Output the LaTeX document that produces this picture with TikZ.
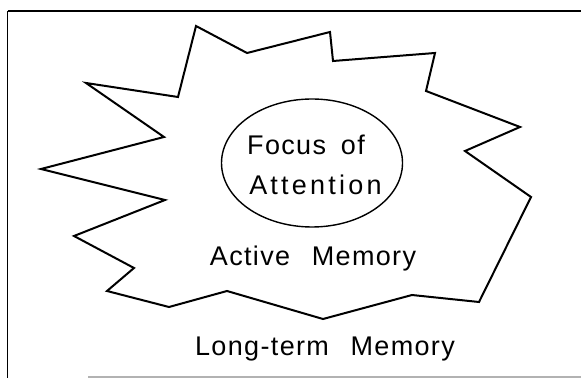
\documentclass[tikz,border=0pt]{standalone}
\usepackage{fontspec}
\newfontfamily\memfont[LetterSpace=5]{Liberation Sans}
\usepackage{tikz}
\usetikzlibrary{shapes.geometric}

\begin{document}
\begin{tikzpicture}[x=0.5pt, y=-0.5pt,
    mem_label/.style={anchor=base, inner sep=0pt, font=\memfont\fontsize{13.5}{16}\selectfont},
    focus_node/.style={ellipse, draw, line width=0.7pt, minimum width=90.5pt, minimum height=64pt, inner sep=0pt},
    blob/.style={line width=1pt, line join=miter}]
    \useasboundingbox (0,0) rectangle (581,378);
    % frame
    \draw[line width=1pt] (581,11) -- (7.5,11);
    \draw[line width=0.7pt] (7.5,11) -- (7.5,378);
    \draw[gray!60, line width=0.6pt] (88,377) -- (581,377);
    % active memory
    \draw[blob] (196,26) -- (247,53) -- (330,32) -- (333,61) -- (435,53) -- (426,91)
        -- (520,127) -- (465,151) -- (531,197) -- (479,302) -- (412,295) -- (323,319)
        -- (227,291) -- (169,307) -- (107,291) -- (134,268) -- (74,236) -- (165,200)
        -- (41,169) -- (164,137) -- (86,83) -- (178,97) -- cycle;
    \node[focus_node] (focus) at (312, 163) {};
    \node[mem_label] (focus1) at (306, 155) {Focus\hspace{0.55em}of};
    \node[mem_label] (focus2) at (315.5, 195) {\addfontfeature{LetterSpace=12}Attention};
    \node[mem_label] (active) at (313, 265) {Active\hspace{0.8em}Memory};
    \node[mem_label] (longterm) at (325, 355) {Long-term\hspace{0.8em}Memory};
\end{tikzpicture}
\end{document}
